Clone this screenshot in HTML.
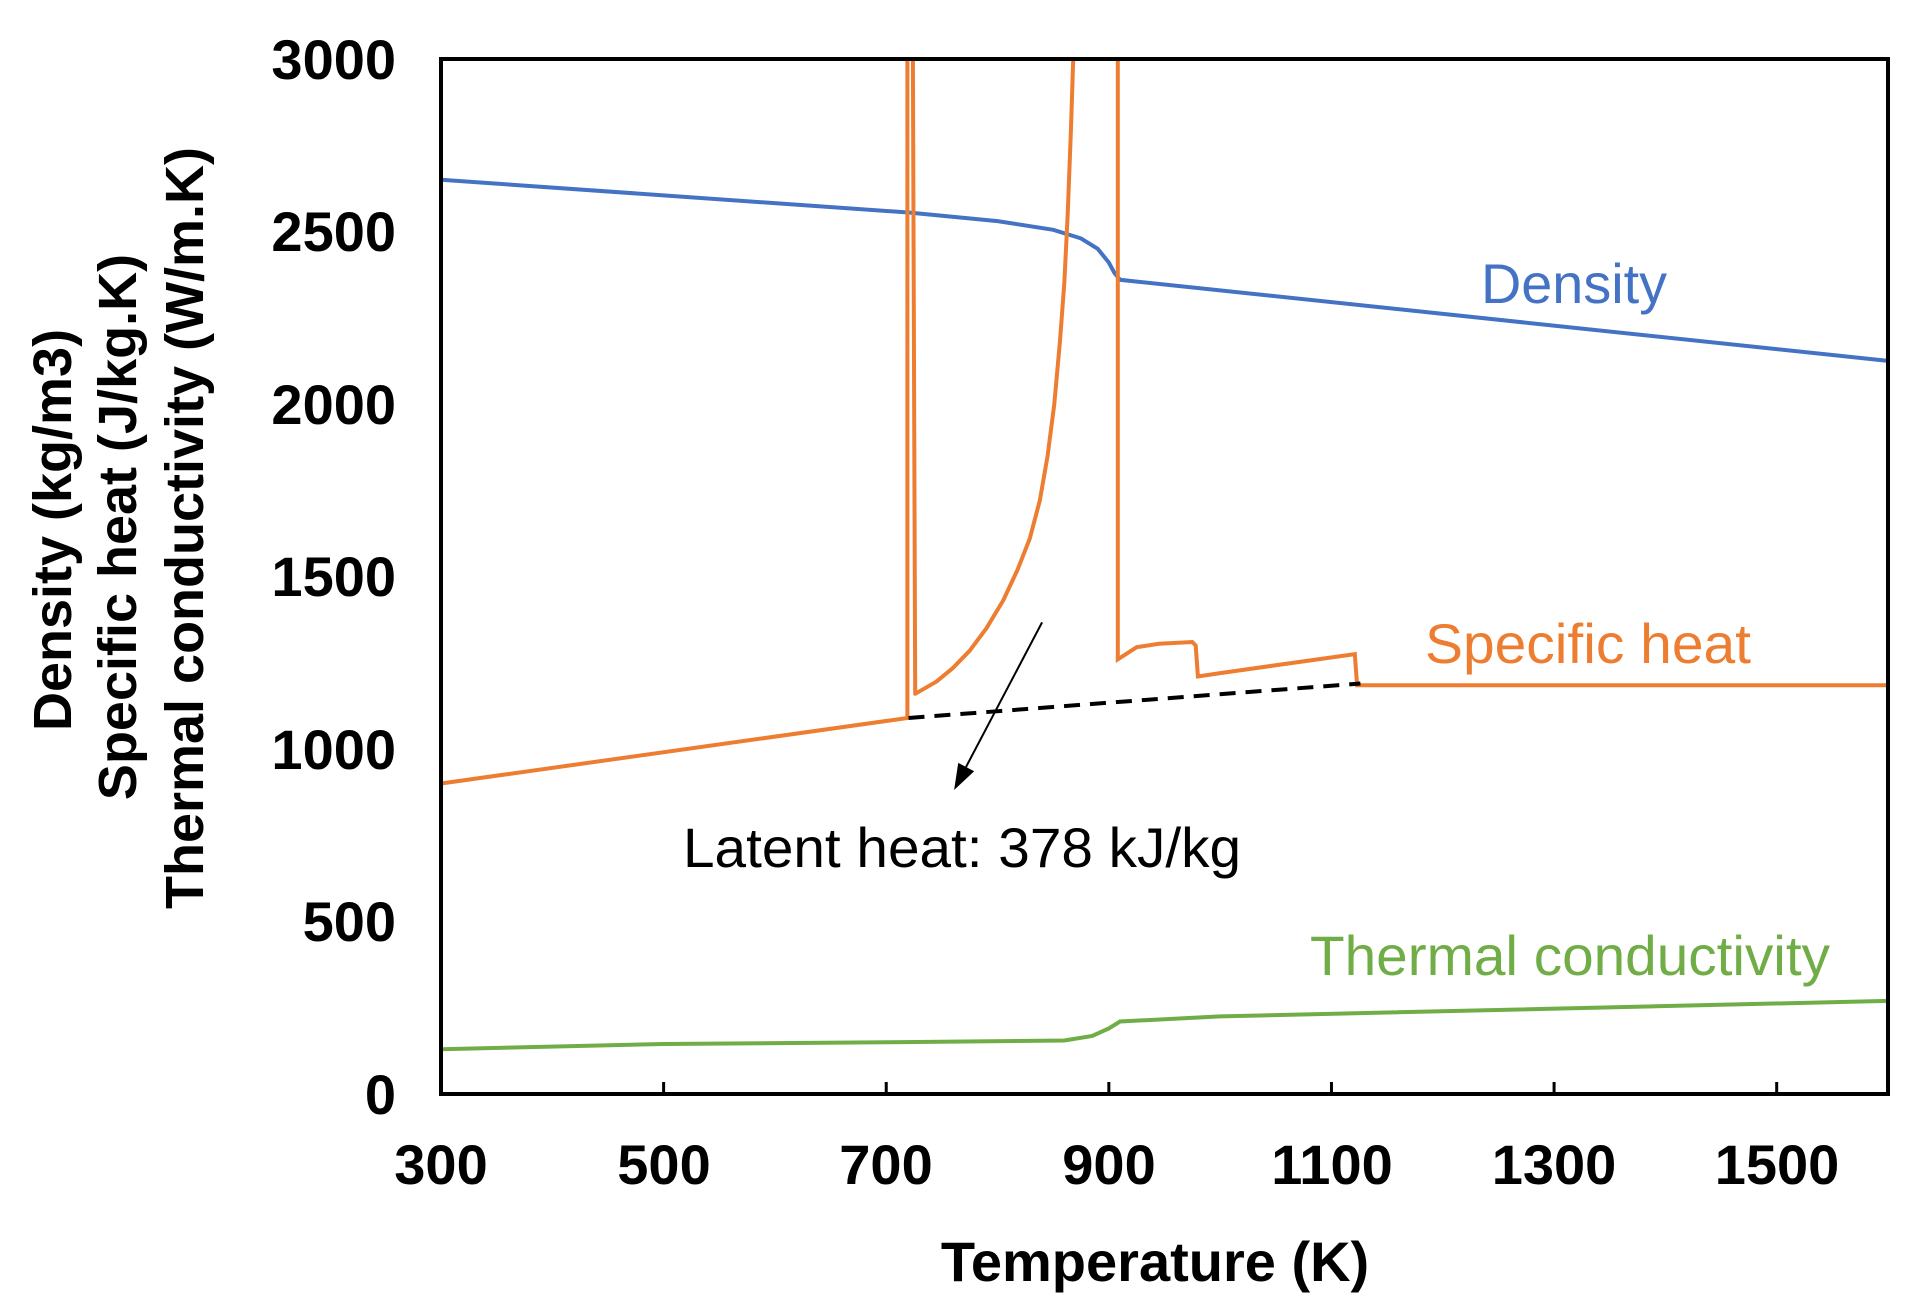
<!DOCTYPE html>
<html><head><meta charset="utf-8"><style>html,body{margin:0;padding:0;background:#fff}svg{display:block}</style></head>
<body>
<svg id="s" width="1913" height="1299" viewBox="0 0 1913 1299" xmlns="http://www.w3.org/2000/svg" font-family="Liberation Sans, Arial, sans-serif">
<g id="data"></g>
<rect x="441" y="59" width="1447" height="1035" fill="none" stroke="#000" stroke-width="4"/>
<g font-size="56" font-weight="bold" text-anchor="end" fill="#000">
<text x="396" y="79">3000</text><text x="396" y="251">2500</text><text x="396" y="424">2000</text>
<text x="396" y="596">1500</text><text x="396" y="769">1000</text><text x="396" y="941">500</text><text x="396" y="1114">0</text>
</g>
<g font-size="56" font-weight="bold" text-anchor="middle" fill="#000">
<text x="441" y="1184">300</text><text x="664" y="1184">500</text><text x="886" y="1184">700</text><text x="1109" y="1184">900</text>
<text x="1332" y="1184">1100</text><text x="1554" y="1184">1300</text><text x="1777" y="1184">1500</text>
<text x="1155" y="1281" font-size="56">Temperature (K)</text>
</g>
<g font-size="54" font-weight="bold" text-anchor="middle" fill="#000">
<text transform="translate(71,530) rotate(-90)">Density (kg/m3)</text>
<text transform="translate(136,527) rotate(-90)">Specific heat (J/kg.K)</text>
<text transform="translate(203,528) rotate(-90)">Thermal conductivity (W/m.K)</text>
</g>
<g font-size="56">
<text x="1481" y="303" fill="#4472C4" textLength="186" lengthAdjust="spacingAndGlyphs">Density</text>
<text x="1425" y="663" fill="#ED7D31" textLength="326" lengthAdjust="spacingAndGlyphs">Specific heat</text>
<text x="1310" y="975" fill="#70AD47" textLength="520" lengthAdjust="spacingAndGlyphs">Thermal conductivity</text>
<text x="683" y="867" fill="#000" textLength="558" lengthAdjust="spacingAndGlyphs">Latent heat: 378 kJ/kg</text>
</g>
</svg>
<script>
var X=function(t){return 441+(t-300)*1447/1300},Y=function(v){return 1094-v*1035/3000};
function P(pts){return pts.map(function(p,i){return (i?'L':'M')+X(p[0]).toFixed(1)+','+Y(p[1]).toFixed(1)}).join(' ')}
var g=document.getElementById('data'),h='';
var dens=[[300,2650],[720,2555],[800,2530],[850,2505],[875,2480],[890,2450],[900,2410],[905,2380],[910,2360],[1600,2125]];
h+='<path d="'+P(dens)+'" fill="none" stroke="#4472C4" stroke-width="4"/>';
var cp=[[300,900],[719,1090],[719,3000],[724,3000],[726,1160],[745,1195],[760,1235],[775,1285],[790,1350],[805,1430],[818,1520],[829,1610],[838,1720],[845,1850],[851,2000],[856,2180],[860,2350],[863,2550],[866,2800],[868,3000]];
h+='<path d="'+P(cp)+'" fill="none" stroke="#ED7D31" stroke-width="4" stroke-linejoin="round"/>';
var cp2=[[908,3000],[908,1260],[925,1295],[945,1305],[975,1310],[978,1300],[980,1210],[1000,1220],[1121,1275],[1123,1185],[1600,1185]];
h+='<path d="'+P(cp2)+'" fill="none" stroke="#ED7D31" stroke-width="4"/>';
h+='<path d="'+P([[720,1090],[1126,1190]])+'" fill="none" stroke="#000" stroke-width="4" stroke-dasharray="16,10"/>';
var k=[[300,130],[500,145],[700,150],[860,155],[885,168],[900,190],[910,210],[1000,225],[1600,270]];
h+='<path d="'+P(k)+'" fill="none" stroke="#70AD47" stroke-width="4"/>';
var ax1=X(840),ay1=Y(1367),ax2=X(761),ay2=Y(881);
h+='<line x1="'+ax1+'" y1="'+ay1+'" x2="'+(ax2+5)+'" y2="'+(ay2-10)+'" stroke="#000" stroke-width="2"/>';
var dx=ax2-ax1,dy=ay2-ay1,L=Math.hypot(dx,dy),ux=dx/L,uy=dy/L;
var bx=ax2-ux*26,by=ay2-uy*26;
h+='<polygon points="'+ax2+','+ay2+' '+(bx-uy*9)+','+(by+ux*9)+' '+(bx+uy*9)+','+(by-ux*9)+'" fill="#000"/>';
for(var i=0;i<7;i++){var x=X(300+200*i);h+='<line x1="'+x+'" y1="1094" x2="'+x+'" y2="1082" stroke="#000" stroke-width="3"/>';}
g.innerHTML=h;
</script>
</body></html>
